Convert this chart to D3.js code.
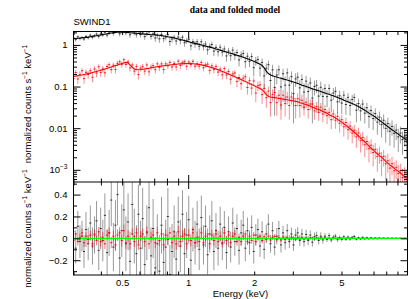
<!DOCTYPE html>
<html>
<head>
<meta charset="utf-8">
<script src="https://cdn.jsdelivr.net/npm/d3@7"></script>
<style>
  body { margin: 0; background: #fff; }
  svg { display: block; }
  text { font-family: "Liberation Sans", Arial, sans-serif; fill: #000; }
</style>
</head>
<body>
<div id="chart"></div>
<script>
var width = 409;
var height = 299;

// bin centres (keV)
var energies = [0.300, 0.307, 0.314, 0.321, 0.328, 0.335, 0.342, 0.350, 0.358, 0.366,
  0.374, 0.382, 0.391, 0.399, 0.408, 0.417, 0.427, 0.436, 0.446, 0.456,
  0.466, 0.476, 0.487, 0.498, 0.509, 0.520, 0.532, 0.543, 0.556, 0.568,
  0.581, 0.593, 0.607, 0.620, 0.634, 0.648, 0.663, 0.677, 0.692, 0.708,
  0.723, 0.739, 0.756, 0.773, 0.790, 0.808, 0.825, 0.844, 0.863, 0.882,
  0.901, 0.921, 0.942, 0.963, 0.984, 1.006, 1.029, 1.051, 1.075, 1.099,
  1.123, 1.148, 1.174, 1.200, 1.226, 1.254, 1.282, 1.310, 1.339, 1.369,
  1.399, 1.431, 1.462, 1.495, 1.528, 1.562, 1.597, 1.632, 1.669, 1.706,
  1.744, 1.783, 1.822, 1.863, 1.904, 1.947, 1.990, 2.034, 2.079, 2.126,
  2.173, 2.221, 2.271, 2.321, 2.373, 2.425, 2.479, 2.535, 2.591, 2.649,
  2.708, 2.768, 2.829, 2.892, 2.957, 3.022, 3.090, 3.158, 3.229, 3.300,
  3.374, 3.449, 3.525, 3.604, 3.684, 3.766, 3.850, 3.935, 4.023, 4.112,
  4.204, 4.297, 4.393, 4.491, 4.591, 4.693, 4.797, 4.904, 5.013, 5.124,
  5.238, 5.355, 5.474, 5.596, 5.720, 5.848, 5.978, 6.111, 6.247, 6.386,
  6.528, 6.673, 6.821, 6.973, 7.128, 7.287, 7.449, 7.615, 7.784, 7.957,
  8.134, 8.315, 8.500, 8.689, 8.882, 9.080, 9.282, 9.488, 9.700, 9.915];

// first spectrum (black): folded model, 1-sigma error, data - model
var blackModel = [1.42, 1.43, 1.45, 1.46, 1.48, 1.50, 1.52, 1.54, 1.57, 1.60,
  1.63, 1.66, 1.70, 1.73, 1.77, 1.81, 1.85, 1.89, 1.93, 1.97,
  2.00, 2.02, 2.03, 2.03, 2.02, 2.00, 1.98, 1.96, 1.94, 1.92,
  1.90, 1.88, 1.86, 1.84, 1.82, 1.80, 1.78, 1.76, 1.75, 1.74,
  1.73, 1.70, 1.67, 1.64, 1.61, 1.57, 1.54, 1.51, 1.47, 1.43,
  1.39, 1.35, 1.31, 1.27, 1.23, 1.19, 1.15, 1.12, 1.09, 1.06,
  1.03, 1.00, 0.97, 0.94, 0.91, 0.885, 0.86, 0.83, 0.80, 0.775,
  0.75, 0.725, 0.70, 0.675, 0.65, 0.63, 0.61, 0.59, 0.565, 0.545,
  0.525, 0.505, 0.485, 0.465, 0.445, 0.425, 0.405, 0.385, 0.365, 0.345,
  0.32, 0.28, 0.235, 0.205, 0.19, 0.182, 0.175, 0.169, 0.163, 0.158,
  0.153, 0.148, 0.143, 0.138, 0.133, 0.128, 0.123, 0.118, 0.113, 0.108,
  0.104, 0.100, 0.096, 0.092, 0.088, 0.085, 0.082, 0.079, 0.076, 0.073,
  0.070, 0.067, 0.065, 0.062, 0.060, 0.057, 0.055, 0.052, 0.050, 0.047,
  0.045, 0.043, 0.041, 0.039, 0.037, 0.035, 0.033, 0.031, 0.029, 0.027,
  0.025, 0.023, 0.0215, 0.020, 0.0185, 0.017, 0.0155, 0.0142, 0.013, 0.0119,
  0.0109, 0.0100, 0.0092, 0.0085, 0.0078, 0.0072, 0.0066, 0.0061, 0.0056, 0.0052];
var blackErr = [0.13, 0.14, 0.14, 0.15, 0.14, 0.15, 0.16, 0.15, 0.16, 0.17,
  0.17, 0.18, 0.18, 0.19, 0.19, 0.20, 0.21, 0.21, 0.24, 0.22,
  0.23, 0.28, 0.25, 0.24, 0.26, 0.25, 0.26, 0.27, 0.28, 0.25,
  0.26, 0.27, 0.25, 0.28, 0.26, 0.25, 0.29, 0.26, 0.27, 0.28,
  0.27, 0.28, 0.26, 0.27, 0.25, 0.26, 0.27, 0.25, 0.24, 0.25,
  0.23, 0.24, 0.22, 0.23, 0.21, 0.22, 0.21, 0.20, 0.20, 0.21,
  0.19, 0.20, 0.18, 0.19, 0.18, 0.17, 0.18, 0.17, 0.16, 0.16,
  0.16, 0.15, 0.15, 0.15, 0.14, 0.14, 0.14, 0.13, 0.13, 0.13,
  0.12, 0.13, 0.12, 0.12, 0.11, 0.11, 0.11, 0.10, 0.10, 0.10,
  0.095, 0.09, 0.085, 0.09, 0.08, 0.08, 0.075, 0.075, 0.07, 0.07,
  0.065, 0.065, 0.06, 0.06, 0.058, 0.055, 0.055, 0.052, 0.05, 0.048,
  0.046, 0.045, 0.043, 0.042, 0.04, 0.039, 0.037, 0.036, 0.035, 0.033,
  0.026, 0.025, 0.024, 0.023, 0.022, 0.021, 0.02, 0.019, 0.018, 0.017,
  0.016, 0.015, 0.015, 0.014, 0.013, 0.013, 0.012, 0.011, 0.011, 0.01,
  0.0095, 0.009, 0.0085, 0.008, 0.0075, 0.007, 0.0066, 0.0062, 0.0058, 0.0054,
  0.005, 0.0047, 0.0044, 0.0041, 0.0038, 0.0035, 0.0033, 0.003, 0.0028, 0.0026];
var blackResid = [0.06, -0.09, 0.11, -0.03, 0.02, -0.12, 0.08, -0.05, 0.14, -0.07,
  0.03, 0.16, -0.11, 0.09, -0.02, 0.21, -0.13, 0.05, 0.35, -0.08,
  0.12, 0.40, -0.18, 0.07, 0.26, -0.05, 0.15, -0.21, 0.31, 0.02,
  -0.14, 0.22, -0.09, 0.18, -0.24, 0.05, 0.28, -0.16, 0.09, -0.27,
  -0.05, -0.30, 0.12, -0.22, -0.08, 0.20, -0.33, -0.12, 0.06, -0.19,
  0.15, -0.07, 0.22, -0.14, 0.03, 0.17, -0.20, 0.08, -0.04, 0.13,
  -0.10, 0.19, -0.06, 0.11, -0.15, 0.04, 0.16, -0.12, 0.07, -0.09,
  0.13, -0.05, 0.10, -0.13, 0.06, -0.08, 0.14, -0.03, 0.09, -0.11,
  0.05, 0.12, -0.09, 0.07, -0.04, 0.10, -0.12, 0.03, 0.08, -0.07,
  0.06, -0.10, 0.04, 0.13, -0.05, 0.07, -0.08, 0.02, 0.09, -0.06,
  0.05, -0.04, 0.07, -0.03, 0.04, -0.06, 0.03, 0.05, -0.02, 0.04,
  -0.03, 0.035, -0.02, 0.03, -0.035, 0.015, 0.025, -0.02, 0.02, -0.015,
  0.02, -0.01, 0.025, -0.015, 0.01, 0.02, -0.012, 0.008, -0.01, 0.015,
  -0.008, 0.012, -0.006, 0.01, 0.018, -0.008, 0.006, -0.005, 0.009, -0.004,
  0.006, -0.004, 0.005, -0.003, 0.004, -0.003, 0.003, -0.002, 0.0025, -0.002,
  0.002, -0.0015, 0.0018, -0.001, 0.0012, -0.001, 0.001, -0.0008, 0.0008, -0.0006];

// second spectrum (red)
var redModel = [0.175, 0.178, 0.182, 0.186, 0.19, 0.195, 0.20, 0.205, 0.21, 0.217,
  0.224, 0.231, 0.239, 0.247, 0.255, 0.264, 0.274, 0.284, 0.295, 0.306,
  0.318, 0.33, 0.343, 0.356, 0.37, 0.38, 0.372, 0.33, 0.29, 0.265,
  0.255, 0.254, 0.256, 0.26, 0.265, 0.27, 0.276, 0.282, 0.288, 0.294,
  0.30, 0.305, 0.31, 0.315, 0.32, 0.325, 0.33, 0.335, 0.34, 0.344,
  0.348, 0.351, 0.354, 0.356, 0.357, 0.357, 0.356, 0.353, 0.349, 0.344,
  0.338, 0.331, 0.323, 0.314, 0.305, 0.295, 0.285, 0.275, 0.264, 0.253,
  0.242, 0.231, 0.22, 0.21, 0.20, 0.19, 0.181, 0.172, 0.163, 0.155,
  0.147, 0.139, 0.132, 0.125, 0.118, 0.112, 0.106, 0.10, 0.095, 0.09,
  0.084, 0.075, 0.064, 0.058, 0.056, 0.055, 0.054, 0.053, 0.052, 0.051,
  0.050, 0.049, 0.048, 0.047, 0.046, 0.045, 0.044, 0.043, 0.041, 0.040,
  0.038, 0.037, 0.035, 0.034, 0.032, 0.031, 0.029, 0.028, 0.027, 0.025,
  0.024, 0.023, 0.021, 0.020, 0.019, 0.0175, 0.0163, 0.0151, 0.014, 0.0128,
  0.0117, 0.0107, 0.0097, 0.0088, 0.0080, 0.0072, 0.0065, 0.0058, 0.0052, 0.0047,
  0.0042, 0.0037, 0.0033, 0.0030, 0.0027, 0.0024, 0.0022, 0.0020, 0.0018, 0.0016,
  0.00145, 0.0013, 0.0012, 0.0011, 0.001, 0.00092, 0.00085, 0.00075, 0.00068, 0.00062];
var redErr = [0.034, 0.035, 0.036, 0.036, 0.037, 0.038, 0.039, 0.04, 0.04, 0.041,
  0.042, 0.043, 0.044, 0.045, 0.046, 0.047, 0.048, 0.049, 0.05, 0.051,
  0.052, 0.053, 0.054, 0.055, 0.056, 0.056, 0.055, 0.052, 0.05, 0.048,
  0.047, 0.047, 0.047, 0.048, 0.048, 0.049, 0.049, 0.05, 0.05, 0.05,
  0.051, 0.051, 0.052, 0.052, 0.052, 0.053, 0.053, 0.053, 0.053, 0.054,
  0.054, 0.054, 0.054, 0.054, 0.054, 0.054, 0.054, 0.053, 0.053, 0.053,
  0.052, 0.052, 0.051, 0.05, 0.05, 0.049, 0.048, 0.047, 0.046, 0.045,
  0.044, 0.043, 0.042, 0.041, 0.04, 0.039, 0.038, 0.037, 0.036, 0.035,
  0.034, 0.033, 0.032, 0.031, 0.03, 0.03, 0.029, 0.028, 0.027, 0.027,
  0.026, 0.025, 0.023, 0.022, 0.022, 0.021, 0.021, 0.021, 0.02, 0.02,
  0.02, 0.02, 0.019, 0.019, 0.019, 0.018, 0.018, 0.018, 0.017, 0.017,
  0.012, 0.012, 0.011, 0.011, 0.0105, 0.01, 0.0095, 0.009, 0.0085, 0.008,
  0.0078, 0.0075, 0.007, 0.0066, 0.0062, 0.0058, 0.0055, 0.0052, 0.0048, 0.0045,
  0.0042, 0.0039, 0.0036, 0.0033, 0.003, 0.0028, 0.0026, 0.0024, 0.0022, 0.002,
  0.0018, 0.0017, 0.0015, 0.0014, 0.0013, 0.0012, 0.0011, 0.001, 0.0009, 0.00085,
  0.0008, 0.00072, 0.00066, 0.0006, 0.00055, 0.0005, 0.00045, 0.0004, 0.00037, 0.00034];
var redResid = [-0.02, 0.04, -0.03, 0.01, 0.05, -0.04, 0.02, -0.01, 0.03, -0.05,
  0.04, -0.02, 0.06, -0.03, 0.01, -0.05, 0.03, 0.05, -0.04, 0.02,
  -0.06, 0.03, 0.05, -0.02, 0.07, -0.04, 0.02, -0.05, 0.04, -0.03,
  0.05, -0.06, 0.02, 0.04, -0.03, 0.06, -0.05, 0.01, 0.03, -0.04,
  0.05, -0.02, 0.04, -0.06, 0.03, -0.01, 0.05, -0.04, 0.02, -0.05,
  0.06, -0.03, 0.02, 0.04, -0.05, 0.03, -0.02, 0.05, -0.04, 0.01,
  -0.03, 0.05, -0.04, 0.02, 0.04, -0.05, 0.03, -0.02, 0.04, -0.03,
  0.02, -0.04, 0.05, -0.02, 0.03, -0.04, 0.02, 0.04, -0.03, 0.01,
  -0.03, 0.02, 0.04, -0.03, 0.02, -0.02, 0.03, -0.03, 0.01, 0.02,
  -0.02, 0.015, -0.01, 0.02, -0.015, 0.01, 0.018, -0.012, 0.01, -0.015,
  0.012, -0.01, 0.008, -0.012, 0.01, 0.006, -0.009, 0.008, -0.006, 0.007,
  -0.006, 0.005, -0.007, 0.004, 0.006, -0.005, 0.004, -0.004, 0.005, -0.003,
  0.004, -0.003, 0.003, -0.004, 0.003, -0.002, 0.003, -0.002, 0.002, -0.002,
  0.002, -0.0015, 0.0015, -0.0012, 0.001, -0.001, 0.0012, -0.0008, 0.0008, -0.0007,
  0.0006, -0.0005, 0.0006, -0.0004, 0.0004, -0.0003, 0.0003, -0.0003, 0.0003, -0.0002,
  0.0002, -0.0002, 0.0002, -0.00015, 0.00015, -0.0001, 0.0001, -0.0001, 0.0001, -0.0001];

var xTickLabels = [0.5, 1, 2, 5];
var xMinorTicks = [0.3, 0.4, 0.5, 0.6, 0.7, 0.8, 0.9, 2, 3, 4, 5, 6, 7, 8, 9];
var xMajorTicks = [1];
var yDecades = [0.001, 0.01, 0.1, 1];
var yMinorTicks = [6e-4, 7e-4, 8e-4, 9e-4, 0.002, 0.003, 0.004, 0.005, 0.006, 0.007, 0.008, 0.009,
  0.02, 0.03, 0.04, 0.05, 0.06, 0.07, 0.08, 0.09, 0.2, 0.3, 0.4, 0.5, 0.6, 0.7, 0.8, 0.9, 2];
var residTicks = [-0.2, 0, 0.2, 0.4];
var residMinor = [-0.3, -0.1, 0.1, 0.3, 0.5];

var plotLeft = 73.5, plotRight = 407.5, plotTop = 31.5, plotMid = 182, plotBottom = 275;

var svg = d3.select('#chart').append('svg')
  .attr('width', width)
  .attr('height', height);

var x = d3.scaleLog().domain([0.3, 10]).range([plotLeft, plotRight]);
var yTop = d3.scaleLog().domain([5.1e-4, 2.1]).range([plotMid, plotTop]);
var yRes = d3.scaleLinear().domain([-0.335, 0.515]).range([plotBottom, plotMid]);

// bin edges from neighbouring centres
function binEdges(i) {
  var n = energies.length;
  var lo = i > 0 ? Math.sqrt(energies[i - 1] * energies[i]) : energies[0] * Math.sqrt(energies[0] / energies[1]);
  var hi = i < n - 1 ? Math.sqrt(energies[i] * energies[i + 1]) : energies[i] * Math.sqrt(energies[i] / energies[i - 1]);
  return [lo, hi];
}

function makeSeries(model, err, resid) {
  return energies.map(function(e, i) {
    return { e: e, model: model[i], err: err[i], resid: resid[i], data: model[i] + resid[i], edges: binEdges(i) };
  });
}

var blackSeries = makeSeries(blackModel, blackErr, blackResid);
var redSeries = makeSeries(redModel, redErr, redResid);

svg.append('clipPath').attr('id', 'clipTop')
  .append('rect').attr('x', plotLeft).attr('y', plotTop).attr('width', plotRight - plotLeft).attr('height', plotMid - plotTop);
svg.append('clipPath').attr('id', 'clipRes')
  .append('rect').attr('x', plotLeft).attr('y', plotMid).attr('width', plotRight - plotLeft).attr('height', plotBottom - plotMid);

var topPlot = svg.append('g').attr('clip-path', 'url(#clipTop)');
var resPlot = svg.append('g').attr('clip-path', 'url(#clipRes)');

var yMin = yTop.domain()[0];
function clampLog(v) { return v > yMin ? v : yMin * 0.5; }

function drawData(g, series, barColor, markColor, yScale, valueKey) {
  var node = g.append('g');
  node.selectAll('line.err')
    .data(series)
    .enter().append('line')
    .attr('class', 'err')
    .attr('x1', function(d) { return x(d.e); })
    .attr('x2', function(d) { return x(d.e); })
    .attr('y1', function(d) { return yScale(valueKey === 'data' ? clampLog(d.data - d.err) : d.resid - d.err); })
    .attr('y2', function(d) { return yScale(valueKey === 'data' ? d.data + d.err : d.resid + d.err); })
    .attr('stroke', barColor)
    .attr('stroke-width', 1);
  node.selectAll('line.bin')
    .data(series)
    .enter().append('line')
    .attr('class', 'bin')
    .attr('x1', function(d) { return x(d.edges[0]); })
    .attr('x2', function(d) { return x(d.edges[1]); })
    .attr('y1', function(d) { return yScale(d[valueKey]); })
    .attr('y2', function(d) { return yScale(d[valueKey]); })
    .attr('stroke', markColor)
    .attr('stroke-width', 1);
}

var modelLine = d3.line()
  .x(function(d) { return x(d.e); })
  .y(function(d) { return yTop(d.model); });

drawData(topPlot, blackSeries, 'rgba(0,0,0,0.4)', 'rgba(0,0,0,0.75)', yTop, 'data');
topPlot.append('path').datum(blackSeries)
  .attr('d', modelLine).attr('fill', 'none').attr('stroke', '#000').attr('stroke-width', 1.1);
drawData(topPlot, redSeries, 'rgba(255,0,0,0.45)', 'rgba(255,0,0,0.9)', yTop, 'data');
topPlot.append('path').datum(redSeries)
  .attr('d', modelLine).attr('fill', 'none').attr('stroke', '#f00').attr('stroke-width', 1.1);

drawData(resPlot, blackSeries, 'rgba(0,0,0,0.4)', 'rgba(0,0,0,0.75)', yRes, 'resid');
drawData(resPlot, redSeries, 'rgba(255,0,0,0.55)', 'rgba(255,0,0,0.95)', yRes, 'resid');
resPlot.append('line')
  .attr('x1', plotLeft).attr('x2', plotRight)
  .attr('y1', yRes(0)).attr('y2', yRes(0))
  .attr('stroke', '#0f0').attr('stroke-width', 1.3);

// axes
function tidy(g) {
  g.select('.domain').remove();
  g.selectAll('text').attr('font-size', 9.5).attr('font-family', '"Liberation Sans", Arial, sans-serif');
  g.selectAll('line').attr('stroke', '#000');
}

function xAxes(y0, dir, labels) {
  var mk = dir === 'top' ? d3.axisTop : d3.axisBottom;
  svg.append('g').attr('transform', 'translate(0,' + y0 + ')')
    .call(mk(x).tickValues(xMinorTicks).tickSize(-3.5).tickFormat(''))
    .call(tidy);
  svg.append('g').attr('transform', 'translate(0,' + y0 + ')')
    .call(mk(x).tickValues(xMajorTicks).tickSize(-7).tickFormat(''))
    .call(tidy);
  if (labels) {
    svg.append('g').attr('transform', 'translate(0,' + y0 + ')')
      .call(mk(x).tickValues(xTickLabels).tickSize(0).tickPadding(4).tickFormat(function(d) { return String(d); }))
      .call(tidy);
  }
}
xAxes(plotTop, 'top', false);
xAxes(plotMid, 'bottom', false);
xAxes(plotMid, 'top', false);
xAxes(plotBottom, 'bottom', true);

function yAxes(scale, majors, minors, fmt) {
  [[d3.axisLeft, plotLeft], [d3.axisRight, plotRight]].forEach(function(p, k) {
    svg.append('g').attr('transform', 'translate(' + p[1] + ',0)')
      .call(p[0](scale).tickValues(minors).tickSize(-3.5).tickFormat(''))
      .call(tidy);
    svg.append('g').attr('transform', 'translate(' + p[1] + ',0)')
      .attr('class', k === 0 ? 'ylabels' : 'yright')
      .call(p[0](scale).tickValues(majors).tickSize(-7).tickPadding(6).tickFormat(k === 0 ? fmt : ''))
      .call(tidy);
  });
}

yAxes(yTop, yDecades, yMinorTicks, function(d) { return d === 0.001 ? '10' : String(d); });
yAxes(yRes, residTicks, residMinor, function(d) { return d < 0 ? '\u2212' + Math.abs(d) : String(d); });

svg.selectAll('.ylabels .tick text').filter(function(d) { return d === 0.001; })
  .append('tspan').attr('dy', -4).attr('font-size', 6.5).text('\u22123');

// frames
svg.append('rect').attr('x', plotLeft).attr('y', plotTop).attr('width', plotRight - plotLeft).attr('height', plotBottom - plotTop)
  .attr('fill', 'none').attr('stroke', '#000').attr('stroke-width', 1);
svg.append('line').attr('x1', plotLeft).attr('x2', plotRight).attr('y1', plotMid).attr('y2', plotMid)
  .attr('stroke', '#000').attr('stroke-width', 1);

// titles
svg.append('text').attr('x', 235).attr('y', 13).attr('text-anchor', 'middle')
  .attr('font-weight', 'bold').attr('font-size', 9.5)
  .style('font-family', '"Liberation Serif", "Times New Roman", serif')
  .text('data and folded model');
svg.append('text').attr('x', plotLeft).attr('y', 25).attr('font-size', 9.5).text('SWIND1');
svg.append('text').attr('x', 240.5).attr('y', 297).attr('text-anchor', 'middle')
  .attr('font-size', 9.5).text('Energy (keV)');

function yLabel(cy) {
  var t = svg.append('text')
    .attr('transform', 'translate(31,' + cy + ') rotate(-90)')
    .attr('text-anchor', 'middle')
    .attr('font-size', 9.5);
  t.append('tspan').text('normalized counts s');
  t.append('tspan').attr('dy', -4).attr('font-size', 6.5).text('\u22121');
  t.append('tspan').attr('dy', 4).text(' keV');
  t.append('tspan').attr('dy', -4).attr('font-size', 6.5).text('\u22121');
}
yLabel(104);
yLabel(228.5);
</script>
</body>
</html>
